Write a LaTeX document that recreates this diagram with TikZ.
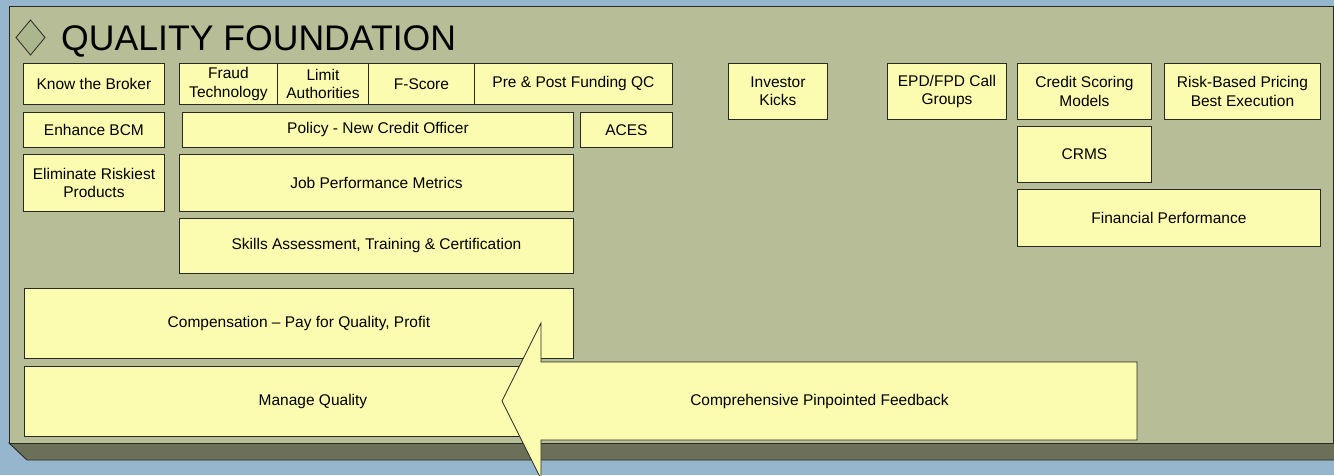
\documentclass[tikz,border=0pt]{standalone}
\usepackage{fontspec}
\setmainfont{Liberation Sans}
\definecolor{skyblue}{RGB}{150,182,205}
\definecolor{panelgreen}{RGB}{183,190,151}
\definecolor{paneldark}{RGB}{108,112,88}
\definecolor{diamondgreen}{RGB}{172,182,140}
\definecolor{boxfill}{RGB}{252,252,176}
\definecolor{edge}{RGB}{40,42,36}
\newcommand\boxfont{\fontsize{15.5}{18.5}\selectfont}
\newcommand\titlefont{\fontsize{35.6}{40}\selectfont}
\tikzset{
x=1pt, y=-1pt,
block/.style={draw=edge, fill=boxfill, line width=0.9pt, anchor=north west,
  align=center, inner sep=0pt, font=\boxfont},
panel/.style={draw=edge, fill=panelgreen, line width=0.9pt},
}

\begin{document}
\begin{tikzpicture}

    \useasboundingbox (0,0) rectangle (1334,475);
    \clip (0,0) rectangle (1334,475);
    \fill[skyblue] (0,0) rectangle (1334,475);

    % foundation slab
    \draw[panel, fill=paneldark] (9,443) -- (1340,443) -- (1340,460) -- (27,460) -- cycle;
    \draw[panel] (9,6) rectangle (1333,443);
    \draw[edge, fill=diamondgreen, line width=0.8pt] (16,37.5) -- (30.5,20) -- (45,37.5) -- (30.5,55) -- cycle;
    \node[anchor=base west, inner sep=0pt, font=\titlefont] (title) at (61,50) {QUALITY FOUNDATION};

    % top row
    \node[block, minimum width=141pt, minimum height=41pt] (broker) at (23,63) {Know the Broker};
    \node[block, minimum width=98pt, minimum height=41pt] (fraud) at (179,63) {Fraud\\Technology};
    \node[block, minimum width=91pt, minimum height=41pt] (limit) at (277,63) {Limit\\Authorities};
    \node[block, minimum width=106pt, minimum height=41pt] (fscore) at (368,63) {F-Score};
    \node[block, minimum width=198pt, minimum height=41pt] (prepost) at (474,63) {Pre \& Post Funding QC};
    \node[block, minimum width=99pt, minimum height=56pt] (investor) at (728,63) {Investor\\Kicks};
    \node[block, minimum width=119pt, minimum height=56pt] (epd) at (887,63) {EPD/FPD Call\\Groups};
    \node[block, minimum width=134pt, minimum height=56pt] (scoring) at (1017,63) {Credit Scoring\\Models};
    \node[block, minimum width=156pt, minimum height=56pt] (pricing) at (1164,63) {Risk-Based Pricing\\Best Execution};

    % second row
    \node[block, minimum width=141pt, minimum height=35pt] (bcm) at (23,112) {Enhance BCM};
    \node[block, minimum width=391pt, minimum height=35pt] (policy) at (182,112) {Policy - New Credit Officer};
    \node[block, minimum width=92pt, minimum height=35pt] (aces) at (580,112) {ACES};
    \node[block, minimum width=134pt, minimum height=56pt] (crms) at (1017,126) {CRMS};

    % lower rows
    \node[block, minimum width=141pt, minimum height=57pt] (riskiest) at (23,154) {Eliminate Riskiest\\Products};
    \node[block, minimum width=394pt, minimum height=57pt] (metrics) at (179,154) {Job Performance Metrics};
    \node[block, minimum width=303pt, minimum height=57pt] (financial) at (1017,189) {Financial Performance};
    \node[block, minimum width=394pt, minimum height=55pt] (skills) at (179,218) {Skills Assessment, Training \& Certification};
    \node[block, minimum width=549pt, minimum height=70pt] (comp) at (24,288) {Compensation – Pay for Quality, Profit};
    \node[block, minimum width=577pt, minimum height=70pt] (manage) at (24,366) {Manage Quality};

    % feedback arrow
    \draw[draw=edge, fill=boxfill, line width=0.8pt] (1137,362) -- (541,362) -- (541,323) -- (502,401)
        -- (541,479) -- (541,440) -- (1137,440) -- cycle;
    \node[font=\boxfont, inner sep=0pt] (feedback) at (819.5,401) {Comprehensive Pinpointed Feedback};

\end{tikzpicture}
\end{document}
